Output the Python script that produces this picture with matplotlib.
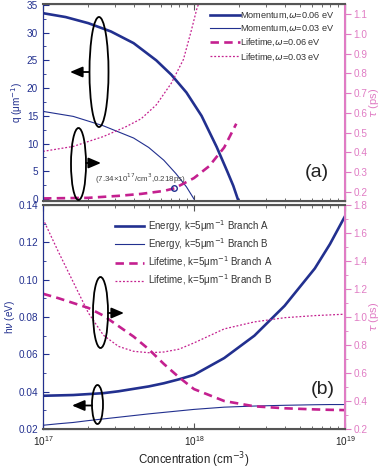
import numpy as np
import matplotlib
matplotlib.use('Agg')
import matplotlib.pyplot as plt
from matplotlib.patches import Ellipse, FancyArrowPatch

# colours
BLUE = '#22308f'
MAG = '#c4208f'
PINK = '#e07cc4'
GREY = '#555555'

# ---- panel (a): momentum q (um^-1) and lifetime tau (ps) vs log10 concentration
logn_q06 = [17.0, 17.15, 17.3, 17.45, 17.6, 17.75, 17.85, 17.95, 18.05, 18.15, 18.22, 18.26, 18.29]
q06 = [33.5, 32.8, 31.7, 30.2, 28.1, 25.0, 22.4, 19.2, 15.0, 9.4, 5.0, 2.4, 0.0]

logn_q03 = [17.0, 17.2, 17.4, 17.6, 17.7, 17.8, 17.88, 17.95, 18.0]
q03 = [15.8, 14.9, 13.2, 11.0, 9.3, 7.0, 4.6, 2.2, 0.0]

logn_t06 = [17.0, 17.3, 17.5, 17.65, 17.8, 17.87, 18.0, 18.1, 18.2, 18.28]
tau06 = [0.167, 0.17, 0.18, 0.19, 0.205, 0.218, 0.27, 0.33, 0.425, 0.545]

logn_t03 = [17.0, 17.2, 17.4, 17.55, 17.65, 17.75, 17.85, 17.93, 17.98, 18.02, 18.035]
tau03 = [0.405, 0.43, 0.48, 0.53, 0.57, 0.64, 0.75, 0.87, 1.01, 1.13, 1.16]

mark_n = 7.34e17
mark_tau = 0.218

# ---- panel (b): energy (eV) and lifetime (ps) at k=5 um^-1
logn_b = [17.0, 17.1, 17.2, 17.3, 17.4, 17.5, 17.6, 17.7, 17.8, 17.9, 18.0,
          18.2, 18.4, 18.6, 18.8, 18.9, 19.0]
eA = [0.0378, 0.0380, 0.0382, 0.0387, 0.0392, 0.0402, 0.0415, 0.0428, 0.0445, 0.0466, 0.049,
      0.058, 0.070, 0.086, 0.106, 0.119, 0.134]
eB = [0.022, 0.0228, 0.0235, 0.0245, 0.0254, 0.0263, 0.0272, 0.0281, 0.0289, 0.0297, 0.0305,
      0.0317, 0.0323, 0.0327, 0.0330, 0.0331, 0.0331]
tauA = [1.166, 1.135, 1.10, 1.065, 1.01, 0.935, 0.86, 0.77, 0.665, 0.57, 0.485,
        0.40, 0.362, 0.348, 0.340, 0.337, 0.335]
tauB = [1.70, 1.47, 1.25, 1.03, 0.87, 0.79, 0.755, 0.745, 0.75, 0.77, 0.815,
        0.915, 0.965, 0.995, 1.01, 1.015, 1.02]

W, H = 382, 471
fig = plt.figure(figsize=(W / 100, H / 100), dpi=100)
plt.rcParams['font.family'] = ['Liberation Sans', 'DejaVu Sans']
plt.rcParams['mathtext.fontset'] = 'dejavusans'
FS = 7.2
LFS = 6.6


def fx(px):
    return px / W


def fy(py):
    return 1 - py / H


def style_axes(ax, axr, lcol, rcol, show_xlabels):
    ax.set_xscale('log')
    ax.set_xlim(1e17, 1e19)
    for s in ['top', 'bottom']:
        axr.spines[s].set_color(GREY)
        axr.spines[s].set_linewidth(1.5)
    axr.spines['left'].set_color(BLUE)
    axr.spines['right'].set_color(PINK)
    axr.spines['right'].set_linewidth(1.5)
    ax.tick_params(axis='x', which='both', direction='in', top=True, colors=GREY,
                   labelcolor='#222222', labelsize=FS, labelbottom=show_xlabels)
    ax.tick_params(axis='x', which='major', length=4)
    ax.tick_params(axis='x', which='minor', length=2.5)
    ax.tick_params(axis='y', which='both', direction='in', colors=lcol, labelsize=FS)
    ax.tick_params(axis='y', which='major', length=4)
    ax.tick_params(axis='y', which='minor', length=2)
    axr.tick_params(axis='y', which='both', direction='out', colors=rcol, labelsize=FS)
    axr.tick_params(axis='y', which='major', length=4, pad=2)
    axr.tick_params(axis='y', which='minor', length=2)


def ellipse(cx, cy, w, h):
    fig.patches.append(Ellipse((fx(cx), fy(cy)), w / W, h / H, transform=fig.transFigure,
                               fill=False, ec='black', lw=1.3, zorder=10))


def arrow(x0, y, x1):
    fig.patches.append(FancyArrowPatch(
        (fx(x0), fy(y)), (fx(x1), fy(y)), transform=fig.transFigure,
        arrowstyle='-|>,head_length=0.75,head_width=0.32', mutation_scale=10,
        color='black', lw=1.3, shrinkA=0, shrinkB=0, zorder=10))


# ---------- top panel
ax1 = fig.add_axes([fx(43), fy(201), fx(302), 196.7 / H])
ax1r = ax1.twinx()
l1, = ax1.plot(10 ** np.array(logn_q06), q06, color=BLUE, lw=1.9)
l2, = ax1.plot(10 ** np.array(logn_q03), q03, color=BLUE, lw=0.8)
l3, = ax1r.plot(10 ** np.array(logn_t06), tau06, color=MAG, lw=1.9, dashes=(3.2, 2))
l4, = ax1r.plot(10 ** np.array(logn_t03), tau03, color=MAG, lw=0.9, dashes=(1.5, 1.5))
ax1r.plot([mark_n], [mark_tau], 'o', ms=4, mfc='none', mec=BLUE, mew=1)
ax1.set_ylim(-0.35, 35.1)
ax1r.set_ylim(0.154, 1.149)
ax1.set_yticks(np.arange(0, 36, 5))
ax1.set_yticks(np.arange(0, 35, 2.5), minor=True)
ax1r.set_yticks(np.arange(0.2, 1.15, 0.1))
ax1r.set_yticklabels(['%.1f' % v for v in np.arange(0.2, 1.15, 0.1)])
style_axes(ax1, ax1r, BLUE, PINK, False)
ax1.set_ylabel('q (μm$^{-1}$)', color=BLUE, fontsize=FS, labelpad=1)
ax1r.set_ylabel(r'$\tau$ (ps)', color=PINK, fontsize=8, labelpad=0)
ax1r.legend([l1, l2, l3, l4],
            [r'Momentum,$\omega$=0.06 eV', r'Momentum,$\omega$=0.03 eV',
             r'Lifetime,$\omega$=0.06 eV', r'Lifetime,$\omega$=0.03 eV'],
            loc='upper right', bbox_to_anchor=(0.985, 0.995), frameon=False, fontsize=LFS,
            handlelength=3.3, handletextpad=0.05, labelspacing=0.3, borderaxespad=0.2,
            labelcolor='#333333')
ax1r.text(4.4e17, 0.232,
          '(7.34×10$^{17}$/cm$^3$,0.218ps)', fontsize=5.8, color='#444444',
          ha='center', va='bottom')
ax1r.text(0.945, 0.1, '(a)', transform=ax1.transAxes, fontsize=14, ha='right',
          va='bottom', color='#222222')

# ---------- bottom panel
ax2 = fig.add_axes([fx(43), fy(429), fx(302), 224 / H])
ax2r = ax2.twinx()
m1, = ax2.plot(10 ** np.array(logn_b), eA, color=BLUE, lw=1.9)
m2, = ax2.plot(10 ** np.array(logn_b), eB, color=BLUE, lw=0.8)
m3, = ax2r.plot(10 ** np.array(logn_b), tauA, color=MAG, lw=1.9, dashes=(3.2, 2))
m4, = ax2r.plot(10 ** np.array(logn_b), tauB, color=MAG, lw=0.9, dashes=(1.5, 1.5))
ax2.set_ylim(0.02, 0.14)
ax2r.set_ylim(0.2, 1.8)
ax2.set_yticks(np.arange(0.02, 0.141, 0.02))
ax2.set_yticklabels(['%.2f' % v for v in np.arange(0.02, 0.141, 0.02)])
ax2.set_yticks(np.arange(0.02, 0.14, 0.01), minor=True)
ax2r.set_yticks(np.arange(0.2, 1.81, 0.2))
ax2r.set_yticklabels(['%.1f' % v for v in np.arange(0.2, 1.81, 0.2)])
ax2r.set_yticks(np.arange(0.2, 1.8, 0.1), minor=True)
style_axes(ax2, ax2r, BLUE, PINK, True)
ax2.set_ylabel(r'h$\nu$ (eV)', color=BLUE, fontsize=FS, labelpad=1)
ax2r.set_ylabel(r'$\tau$ (ps)', color=PINK, fontsize=8, labelpad=0)
ax2.set_xlabel('Concentration (cm$^{-3}$)', fontsize=8.3, color='#222222', labelpad=2)
ax2r.legend([m1, m2, m3, m4],
            ['Energy, k=5μm$^{-1}$ Branch A', 'Energy, k=5μm$^{-1}$ Branch B',
             'Lifetime, k=5μm$^{-1}$ Branch A', 'Lifetime, k=5μm$^{-1}$ Branch B'],
            loc='upper left', bbox_to_anchor=(0.225, 0.96), frameon=False, fontsize=7,
            handlelength=3.0, handletextpad=0.4, labelspacing=0.25, borderaxespad=0.0,
            labelcolor='#333333')
ax2r.text(0.965, 0.14, '(b)', transform=ax2.transAxes, fontsize=14, ha='right',
          va='bottom', color='#222222')

# ellipses and arrows
ellipse(99, 72, 19, 110)
arrow(89, 72, 70)
ellipse(78.5, 164, 15, 72)
arrow(86, 163, 101)
ellipse(100.5, 312.5, 15, 71)
arrow(108, 313, 124)
ellipse(97.5, 404.5, 11, 39)
arrow(92, 405.5, 72)

fig.savefig('out.png', dpi=100)
